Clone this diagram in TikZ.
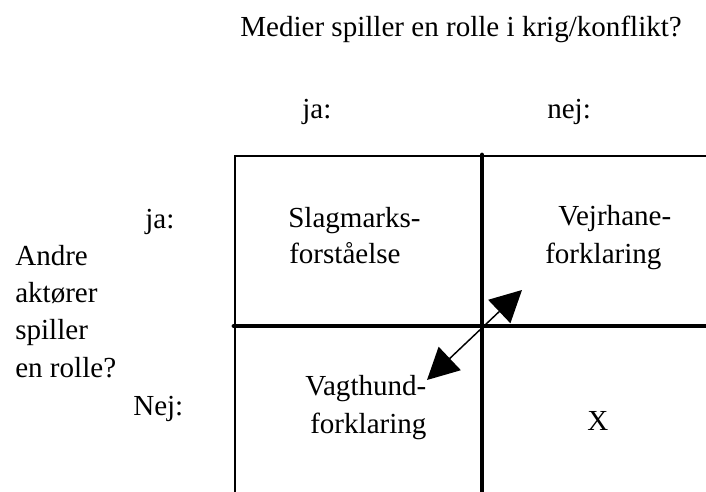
\documentclass[tikz,border=0pt]{standalone}
\usepackage{fontspec}
\setmainfont{Liberation Serif}
\usetikzlibrary{arrows.meta}
\begin{document}
\begin{tikzpicture}[x=0.75pt,y=-0.75pt,
  lbl/.style={anchor=base west,inner sep=0pt,font=\fontsize{21.8}{26}\selectfont},
  thin/.style={line width=1.5pt},
  thick/.style={line width=3.6pt,line cap=round},
  dbl/.style={line width=1.1pt,{Triangle[length=23.5pt,width=24pt]}-{Triangle[length=23.5pt,width=24pt]}}]
\useasboundingbox (0,0) rectangle (706,492);
% frame
\coordinate (tl) at (235,156);
\coordinate (tr) at (706,156);
\coordinate (bl) at (235,492);
\coordinate (vt) at (482,155);
\coordinate (vb) at (482,495);
\coordinate (hl) at (234,326);
\coordinate (hr) at (709,326);
\draw[thin] (tr) -- (tl) -- (bl);
\draw[thick] (vt) -- (vb);
\draw[thick] (hl) -- (hr);
% arrow
\coordinate (p1) at (427,380);
\coordinate (p2) at (522,290);
\draw[dbl] (p1) -- (p2);
% texts
\node[lbl] (title) at (240,37) {Medier spiller en rolle i krig/konflikt?};
\node[lbl] (ja1) at (302,118) {ja:};
\node[lbl] (nej1) at (547,118) {nej:};
\node[lbl] (ja2) at (145,228) {ja:};
\node[lbl] (nej2) at (133,415) {Nej:};
\node[lbl] (l1) at (15,265) {Andre};
\node[lbl] (l2) at (15,302) {aktører};
\node[lbl] (l3) at (15,339) {spiller};
\node[lbl] (l4) at (15,377) {en rolle?};
\node[lbl] (s1) at (288,227) {Slagmarks-};
\node[lbl] (s2) at (289,263) {forståelse};
\node[lbl] (v1) at (558,225) {Vejrhane-};
\node[lbl] (v2) at (545,263) {forklaring};
\node[lbl] (g1) at (305,395) {Vagthund-};
\node[lbl] (g2) at (310,433) {forklaring};
\node[lbl] (x) at (587,430) {X};
\end{tikzpicture}
\end{document}
